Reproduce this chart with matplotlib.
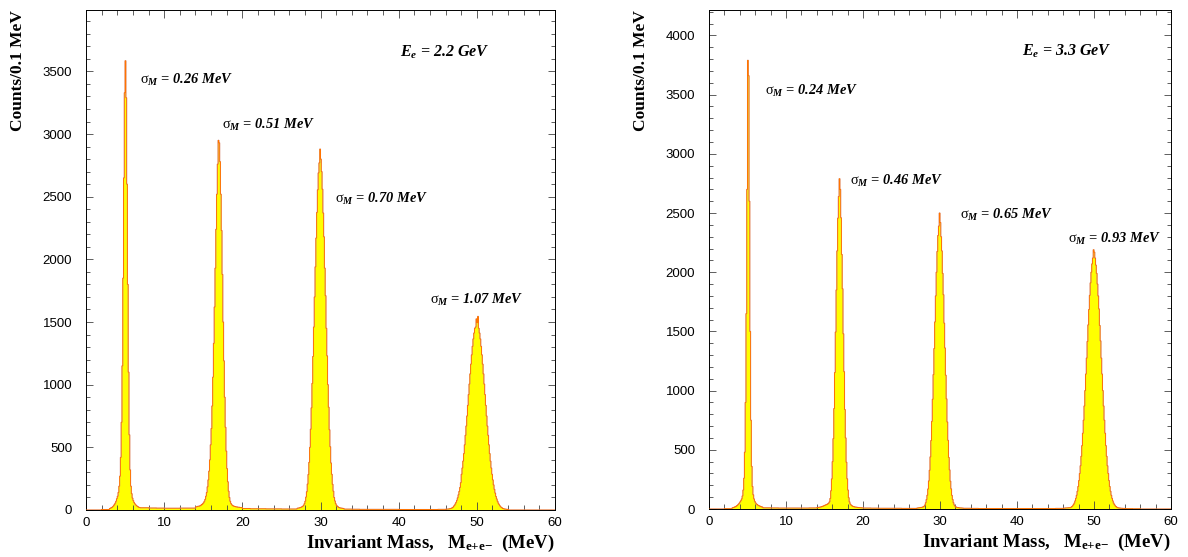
import numpy as np
import matplotlib
matplotlib.use("Agg")
import matplotlib.pyplot as plt
from matplotlib.ticker import MultipleLocator

plt.rcParams["mathtext.fontset"] = "custom"
plt.rcParams["mathtext.rm"] = "Liberation Serif"
plt.rcParams["mathtext.it"] = "Liberation Serif:italic:bold"
plt.rcParams["mathtext.bf"] = "Liberation Serif:bold"

# Histogram binning: 0.1 MeV bins from 0 to 60 MeV
bin_width = 0.1
x_max = 60.0

# Coarse background level (counts / 0.1 MeV), one value per 1 MeV
left_background = [
    0, 0, 4, 10, 14, 15, 18, 18, 16, 15,
    14, 14, 15, 15, 18, 20, 20, 20, 20, 16,
    12, 10, 10, 9, 9, 8, 8, 8, 10, 12,
    12, 12, 10, 7, 6, 5, 5, 5, 5, 5,
    4, 4, 4, 4, 4, 5, 6, 6, 6, 6,
    6, 6, 6, 4, 0, 0, 0, 0, 0, 0,
]
right_background = [
    0, 0, 3, 8, 10, 10, 12, 10, 9, 8,
    8, 8, 8, 9, 10, 10, 10, 10, 10, 9,
    8, 7, 6, 6, 6, 5, 5, 6, 7, 8,
    8, 8, 7, 6, 5, 4, 4, 4, 4, 4,
    4, 4, 4, 4, 4, 5, 5, 5, 5, 5,
    5, 5, 5, 4, 3, 2, 0, 0, 0, 0,
]

# Peak windows: start of window (MeV) and counts per 0.1 MeV bin
left_peak_starts = [3.0, 14.0, 27.0, 46.0]
left_peak_counts = [
    [12, 15, 18, 22, 28, 35, 45, 55, 70, 90,
     110, 140, 190, 270, 420, 700, 1150, 1850, 2650, 3330,
     3585, 3290, 2600, 1800, 1100, 600, 320, 190, 130, 95,
     75, 60, 50, 42, 36, 30, 26, 22, 20, 18],
    [25, 25, 28, 30, 30, 32, 35, 40, 45, 50,
     58, 70, 85, 110, 140, 185, 240, 310, 400, 520,
     650, 830, 1060, 1330, 1620, 1930, 2240, 2520, 2760, 2950,
     2930, 2780, 2520, 2230, 1880, 1500, 1190, 900, 660, 470,
     330, 225, 150, 100, 70, 52, 42, 36, 32, 30,
     28, 26, 25, 24, 22, 22, 21, 20, 20, 20],
    [14, 15, 16, 18, 20, 23, 26, 30, 38, 50,
     70, 103, 146, 207, 283, 380, 500, 645, 815, 1010,
     1225, 1460, 1700, 1940, 2170, 2375, 2555, 2690, 2770, 2880,
     2800, 2700, 2560, 2370, 2180, 1930, 1710, 1450, 1230, 1000,
     820, 640, 505, 375, 285, 205, 150, 100, 72, 50,
     38, 30, 25, 20, 18, 16, 15, 14, 13, 12],
    [6, 7, 7, 8, 9, 10, 12, 14, 17, 21,
     30, 38, 48, 61, 77, 97, 121, 148, 180, 218,
     285, 335, 390, 450, 520, 596, 670, 750, 835, 921,
     1005, 1086, 1164, 1238, 1306, 1365, 1412, 1450, 1460, 1525,
     1495, 1545, 1450, 1412, 1365, 1306, 1238, 1164, 1086, 1005,
     921, 835, 750, 670, 596, 520, 450, 390, 335, 285,
     240, 200, 165, 135, 108, 88, 70, 55, 43, 34,
     26, 20, 16, 12, 10, 8, 7, 6, 5, 5],
]

right_peak_starts = [3.0, 14.0, 27.0, 46.0]
right_peak_counts = [
    [10, 12, 14, 17, 20, 24, 29, 35, 42, 50,
     60, 70, 85, 110, 160, 260, 480, 900, 1650, 2700,
     3790, 3660, 2600, 1500, 750, 360, 190, 120, 85, 65,
     52, 44, 38, 33, 29, 26, 23, 20, 18, 16],
    [12, 13, 14, 15, 16, 18, 20, 22, 25, 28,
     31, 34, 37, 40, 44, 50, 60, 89, 154, 254,
     400, 594, 848, 1153, 1495, 1850, 2180, 2457, 2640, 2790,
     2700, 2460, 2150, 1860, 1480, 1160, 840, 600, 395, 255,
     160, 95, 60, 42, 34, 28, 24, 21, 19, 17,
     16, 15, 14, 13, 12, 12, 11, 11, 10, 10],
    [8, 9, 10, 11, 12, 13, 14, 16, 19, 24,
     34, 53, 80, 116, 169, 237, 327, 440, 578, 740,
     927, 1135, 1355, 1580, 1800, 2000, 2175, 2310, 2390, 2500,
     2420, 2300, 2180, 1990, 1810, 1570, 1360, 1130, 930, 735,
     580, 435, 330, 235, 170, 115, 80, 53, 34, 24,
     18, 15, 13, 12, 11, 10, 9, 9, 8, 8],
    [6, 7, 8, 9, 9, 10, 10, 11, 11, 12,
     16, 21, 28, 38, 50, 68, 90, 116, 150, 190,
     240, 300, 365, 445, 535, 640, 750, 870, 1000, 1140,
     1275, 1415, 1555, 1685, 1805, 1910, 2000, 2070, 2120, 2190,
     2170, 2120, 2060, 1990, 1900, 1800, 1690, 1550, 1420, 1275,
     1140, 1000, 870, 750, 640, 535, 445, 365, 300, 240,
     190, 150, 116, 90, 68, 50, 38, 28, 21, 16,
     12, 10, 9, 8, 7, 6, 6, 5, 5, 5],
]

left_sigmas = ["0.26", "0.51", "0.70", "1.07"]
right_sigmas = ["0.24", "0.46", "0.65", "0.93"]
beam_energies = ["2.2", "3.3"]

# label anchor positions in data units (MeV, counts)
left_label_pos = [(6.9, 3430), (17.4, 3070), (31.9, 2480), (44.0, 1675)]
right_label_pos = [(7.3, 3530), (18.3, 2770), (32.6, 2480), (46.6, 2280)]


def build_hist(background, starts, peaks):
    edges = np.round(np.arange(0, x_max + bin_width / 2, bin_width), 6)
    counts = np.repeat(np.asarray(background, dtype=float), 10)
    for start, vals in zip(starts, peaks):
        i0 = int(round(start / bin_width))
        counts[i0:i0 + len(vals)] = vals
    return edges, counts


def draw_panel(ax, background, starts, peaks, sigmas, label_pos, energy,
               ymax, energy_pos):
    edges, counts = build_hist(background, starts, peaks)
    ax.stairs(counts, edges, fill=True, color="#ffff00", zorder=1)
    ax.stairs(counts, edges, color="#a0a0ff", lw=0.8, alpha=0.6, zorder=2)
    ax.stairs(counts, edges, color="#ff7300", lw=0.7, zorder=3)

    ax.set_xlim(0, x_max)
    ax.set_ylim(0, ymax)
    ax.xaxis.set_major_locator(MultipleLocator(10))
    ax.xaxis.set_minor_locator(MultipleLocator(2))
    ax.yaxis.set_major_locator(MultipleLocator(500))
    ax.yaxis.set_minor_locator(MultipleLocator(100))
    ax.tick_params(which="both", direction="in", top=True, right=True,
                   width=0.6, color="#444444", labelsize=9.5)
    ax.tick_params(axis="x", which="major", length=6, pad=5)
    ax.tick_params(axis="x", which="minor", length=3.5)
    ax.tick_params(axis="y", which="major", length=5, pad=10)
    ax.tick_params(axis="y", which="minor", length=3)
    for lab in ax.get_xticklabels() + ax.get_yticklabels():
        lab.set_fontfamily("Liberation Sans")
    for sp in ax.spines.values():
        sp.set_linewidth(0.7)

    for sig, (x, y) in zip(sigmas, label_pos):
        ax.text(x, y, r"$\mathrm{\sigma}_{M}$ = " + sig + " MeV",
                family="Liberation Serif", style="italic", weight="bold",
                fontsize=10.4, ha="left", va="center")
    ax.text(energy_pos[0], energy_pos[1], r"$E_{e}$ = " + energy + " GeV",
            family="Liberation Serif", style="italic", weight="bold",
            fontsize=11.5, ha="left", va="center")

    ax.set_ylabel("Counts/0.1 MeV", family="Liberation Serif", weight="bold",
                  fontsize=12.5, loc="top", labelpad=12)
    ax.set_xlabel(r"Invariant Mass,   M$_{\mathbf{e{+}e{-}}}$  (MeV)",
                  family="Liberation Serif", weight="bold", fontsize=13.5,
                  loc="right", labelpad=3)


fig = plt.figure(figsize=(11.88, 5.57), dpi=100)
ax1 = fig.add_axes([86 / 1188, 47 / 557, 469 / 1188, 500 / 557])
ax2 = fig.add_axes([709 / 1188, 48 / 557, 462 / 1188, 499 / 557])

draw_panel(ax1, left_background, left_peak_starts, left_peak_counts,
           left_sigmas, left_label_pos, beam_energies[0], 3990, (40.2, 3655))
draw_panel(ax2, right_background, right_peak_starts, right_peak_counts,
           right_sigmas, right_label_pos, beam_energies[1], 4215, (40.6, 3870))

fig.savefig("out.png", dpi=100)
